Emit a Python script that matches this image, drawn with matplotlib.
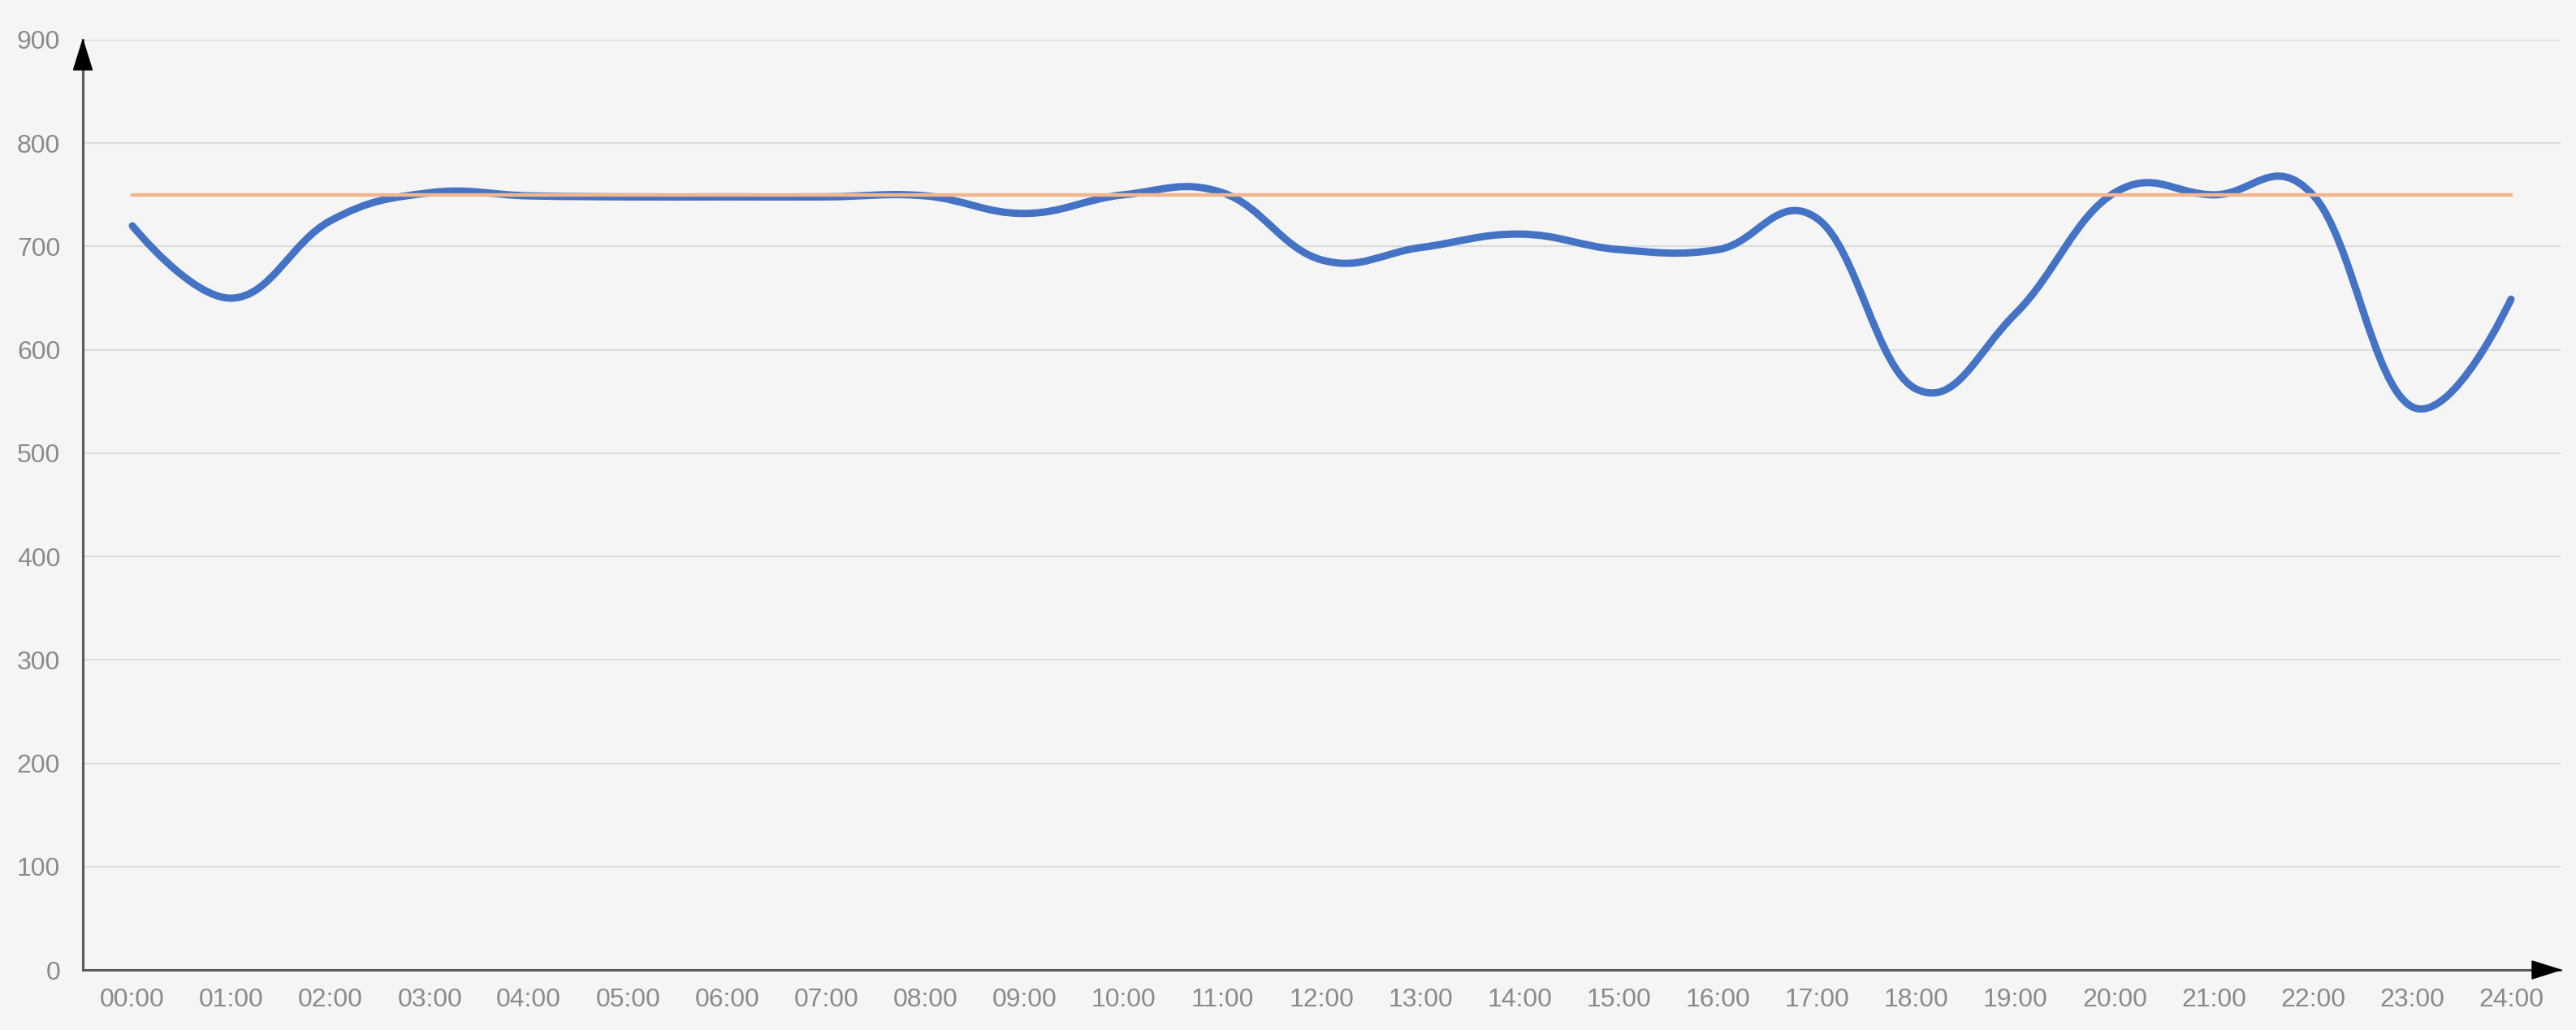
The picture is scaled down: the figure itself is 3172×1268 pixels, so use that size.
import numpy as np
import matplotlib
matplotlib.use("Agg")
import matplotlib.pyplot as plt
import matplotlib.transforms as mtransforms
from matplotlib.path import Path
from matplotlib.patches import PathPatch, Polygon

plt.rcParams["font.family"] = ["Liberation Sans", "DejaVu Sans"]

# data
hour_labels = ["%02d:00" % h for h in range(25)]
actual = [720, 650, 725, 752, 749, 748, 748, 748, 749, 732, 750, 752, 687,
          699, 712, 697, 697, 727, 562, 635, 752, 750, 750, 545, 649]
target = [750] * 25
y_ticks = [0, 100, 200, 300, 400, 500, 600, 700, 800, 900]

W, H = 3172, 1268
BG = "#f5f5f5"
BLUE = "#4472c4"
ORANGE = "#f1b68e"
AXIS = "#5a5a5a"
LABEL = "#8a8a8a"


def smooth_path(xs, ys, k=0.2):
    # bezier curve through every point (cardinal spline style handles)
    pts = np.column_stack([np.asarray(xs, float), np.asarray(ys, float)])
    n = len(pts)
    verts = [pts[0]]
    codes = [Path.MOVETO]
    for i in range(n - 1):
        p0 = pts[i]
        p1 = pts[i + 1]
        prev = pts[i - 1] if i > 0 else p0
        nxt = pts[i + 2] if i + 2 < n else p1
        c1 = p0 + (p1 - prev) * k if i > 0 else p0
        c2 = p1 - (nxt - p0) * k if i + 2 < n else p1
        verts += [c1, c2, p1]
        codes += [Path.CURVE4] * 3
    return Path(np.array(verts), codes)


fig = plt.figure(figsize=(W / 100, H / 100), dpi=100)
fig.patch.set_facecolor(BG)
ax = fig.add_axes([102 / W, 74 / H, (3153 - 102) / W, (1194 - 49) / H])
ax.set_facecolor(BG)

x = np.arange(len(hour_labels))

ax.set_yticks(y_ticks)
ax.yaxis.grid(True, color="#dcdcdc", lw=1.6)
ax.set_axisbelow(True)
ax.set_xticks(x)
ax.set_xticklabels(hour_labels)

ax.tick_params(axis="both", length=0, labelsize=23, labelcolor=LABEL)
ax.tick_params(axis="y", pad=20)
ax.tick_params(axis="x", pad=16)

for side in ["top", "right"]:
    ax.spines[side].set_visible(False)
for side in ["left", "bottom"]:
    ax.spines[side].set_color(AXIS)
    ax.spines[side].set_linewidth(2.2)
    ax.spines[side].set_zorder(4)

# blue series, smoothed
ax.add_patch(PathPatch(smooth_path(x, actual), facecolor="none",
                       edgecolor=BLUE, lw=6.5, capstyle="round",
                       joinstyle="round", zorder=3))
# orange target line
ax.plot(x, target, color=ORANGE, lw=3.2, zorder=3.5)

# arrow heads at the ends of the axes
t_up = fig.dpi_scale_trans + mtransforms.ScaledTranslation(0, 1, ax.transAxes)
ax.add_patch(Polygon([(0, 0), (-0.115, -0.37), (0.115, -0.37)], closed=True,
                     transform=t_up, color="black", clip_on=False, zorder=5))
t_right = fig.dpi_scale_trans + mtransforms.ScaledTranslation(1, 0, ax.transAxes)
ax.add_patch(Polygon([(0, 0), (-0.35, 0.11), (-0.35, -0.11)], closed=True,
                     transform=t_right, color="black", clip_on=False, zorder=5))

ax.set_xlim(-0.5, len(hour_labels) - 0.5)
ax.set_ylim(0, 900)

fig.savefig("out.png", dpi=100, facecolor=BG)
